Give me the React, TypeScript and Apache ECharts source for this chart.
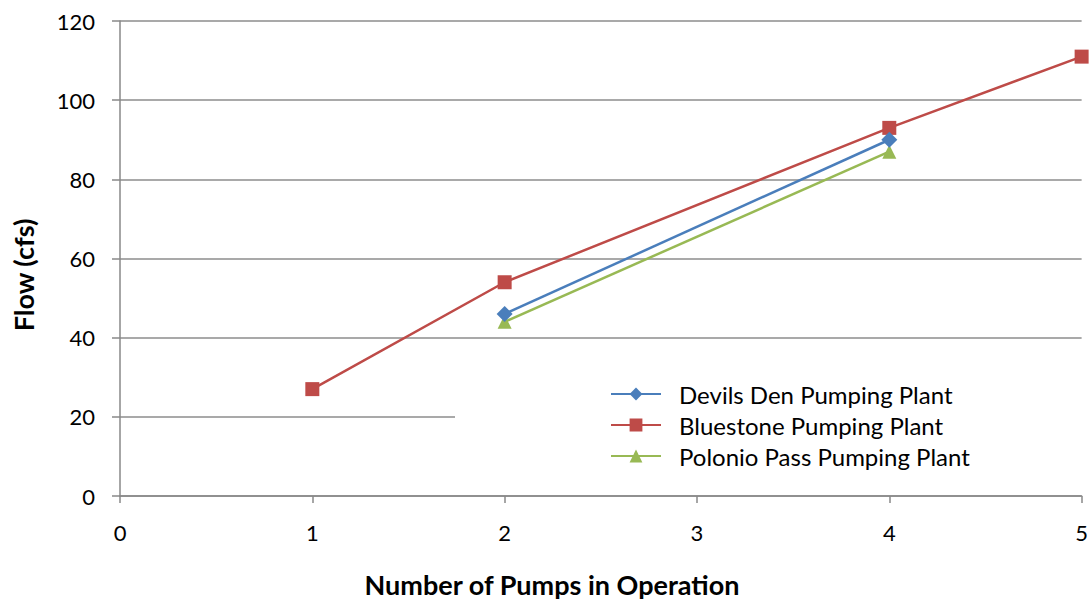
import React, { useEffect, useRef } from "react";
import * as echarts from "echarts";

const seriesNames = ["Devils Den Pumping Plant", "Bluestone Pumping Plant", "Polonio Pass Pumping Plant"];
const devilsDen: number[][] = [[2, 46], [4, 90]];
const bluestone: number[][] = [[1, 27], [2, 54], [4, 93], [5, 111]];
const polonioPass: number[][] = [[2, 44], [4, 87]];
const colors = ["#4a7ebb", "#be4b48", "#98b954"];
const symbols = ["diamond", "rect", "triangle"];
const xTitle = "Number of Pumps in Operation";
const yTitle = "Flow (cfs)";

const FONT = "Lato";

export default function App() {
  const ref = useRef<HTMLDivElement>(null);
  useEffect(() => {
    if (!ref.current) return;
    const chart = echarts.init(ref.current, undefined, { renderer: "svg" });
    const datas = [devilsDen, bluestone, polonioPass];
    chart.setOption({
      animation: false,
      backgroundColor: "#ffffff",
      textStyle: { fontFamily: FONT },
      grid: { left: 120, right: 6, top: 21, bottom: 107, containLabel: false },
      title: {
        text: xTitle,
        left: 552,
        top: 571,
        textAlign: "center",
        padding: 0,
        textStyle: { fontSize: 27, fontWeight: "bold", color: "#000", fontFamily: FONT },
      },
      graphic: [
        {
          type: "text",
          x: 23,
          y: 275,
          rotation: Math.PI / 2,
          style: {
            text: yTitle,
            fill: "#000",
            font: `bold 27px ${FONT}`,
            textAlign: "center",
            textVerticalAlign: "middle",
          },
        },
      ],
      legend: {
        orient: "vertical",
        left: 455,
        top: 378,
        padding: [4, 140, 4, 155],
        backgroundColor: "#ffffff",
        itemWidth: 50,
        itemHeight: 16,
        itemGap: 7,
        data: seriesNames,
        textStyle: { fontSize: 24, lineHeight: 24, color: "#000000", fontFamily: FONT, padding: [0, 0, 0, 13] },
      },
      xAxis: {
        type: "value",
        min: 0,
        max: 5,
        interval: 1,
        axisLine: { show: true, onZero: false, lineStyle: { color: "#888888", width: 1.5 } },
        axisTick: { show: true, length: 7, lineStyle: { color: "#888888", width: 1.5 } },
        axisLabel: { fontSize: 22, color: "#000", margin: 25, fontFamily: FONT },
        splitLine: { show: false },
      },
      yAxis: {
        type: "value",
        min: 0,
        max: 120,
        interval: 20,
        axisLine: { show: true, lineStyle: { color: "#888888", width: 1.5 } },
        axisTick: { show: true, length: 8, lineStyle: { color: "#888888", width: 1.5 } },
        axisLabel: { fontSize: 22, color: "#000", margin: 25, fontFamily: FONT },
        splitLine: { show: true, lineStyle: { color: "#8c8c8c", width: 1.5 } },
      },
      series: seriesNames.map((name, i) => ({
        name,
        type: "line",
        data: datas[i],
        symbol: symbols[i],
        symbolSize: i === 0 ? 16 : 14,
        showSymbol: true,
        itemStyle: { color: colors[i] },
        lineStyle: { color: colors[i], width: 2.5 },
        z: 3 - i + 2,
      })),
    });
    return () => chart.dispose();
  }, []);
  return <div ref={ref} style={{ position: "fixed", left: 0, top: 0, width: 1091, height: 603 }} />;
}
